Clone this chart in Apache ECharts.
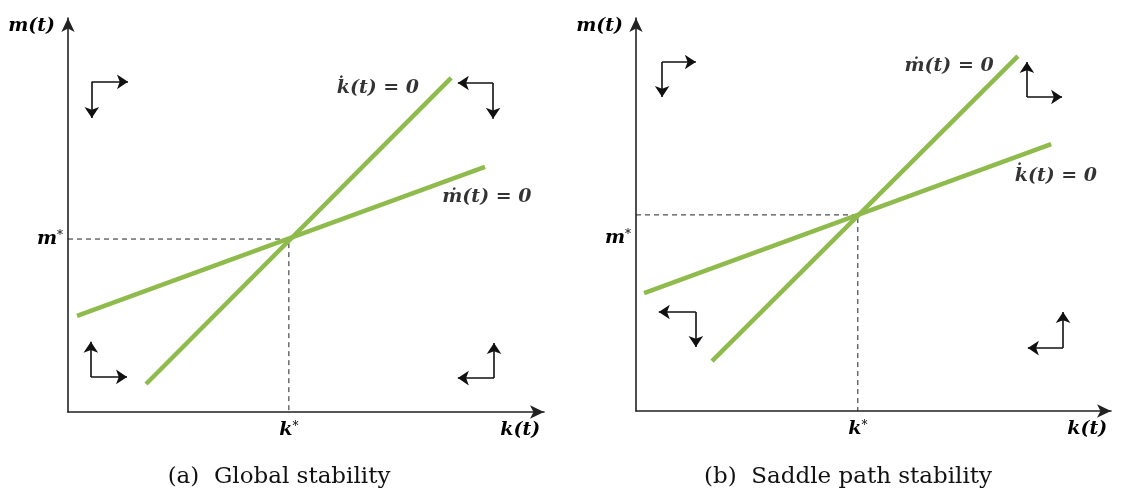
<!DOCTYPE html>
<html>
<head>
<meta charset="utf-8">
<script src="https://cdn.jsdelivr.net/npm/echarts@6/dist/echarts.min.js"></script>
<style>
  html, body { margin: 0; padding: 0; background: #fff; }
  #main { width: 1121px; height: 491px; }
</style>
</head>
<body>
<div id="main"></div>
<script>
// 两个相图: (a) 全局稳定, (b) 鞍点路径稳定
// 每个面板的坐标都是 0~10 的抽象刻度
const kStar = [4.64, 4.67]
const mStar = [4.39, 4.99]
// 陡的那条线 (a: k̇=0, b: ṁ=0)
const steepLine = [
  [[1.64, 0.71], [8.05, 8.48]],
  [[1.60, 1.27], [8.04, 9.03]]
]
// 平的那条线 (a: ṁ=0, b: k̇=0)
const flatLine = [
  [[0.19, 2.44], [8.76, 6.22]],
  [[0.17, 3.00], [8.74, 6.79]]
]
// 方向箭头: [拐点, 箭头1终点, 箭头2终点]
const arrowsA = [
  [[0.50, 8.38], [1.26, 8.38], [0.50, 7.46]],
  [[8.93, 8.35], [8.19, 8.35], [8.93, 7.44]],
  [[0.48, 0.89], [0.48, 1.78], [1.24, 0.89]],
  [[8.95, 0.86], [8.95, 1.75], [8.19, 0.86]]
]
const arrowsB = [
  [[0.55, 8.88], [1.26, 8.88], [0.55, 7.99]],
  [[8.23, 7.99], [8.23, 8.88], [8.97, 7.99]],
  [[1.26, 2.52], [0.48, 2.52], [1.26, 1.63]],
  [[8.99, 1.60], [8.99, 2.52], [8.25, 1.60]]
]
// 曲线标注 [文字, x, y]
const curveLabelsA = [['k\u0307(t) = 0', 6.51, 8.22], ['\u1E41(t) = 0', 8.80, 5.46]]
const curveLabelsB = [['\u1E41(t) = 0', 6.59, 8.78], ['k\u0307(t) = 0', 8.84, 5.98]]
const captions = ['(a)  Global stability', '(b)  Saddle path stability']
const xName = 'k(t)'
const yName = 'm(t)'
const xNamePos = 9.5
const yNamePos = 9.8

const green = '#8fbb4d'
const ink = '#111'
const mathFont = {
  fontFamily: 'DejaVu Serif',
  fontStyle: 'italic',
  fontWeight: 'bold',
  fontSize: 19,
  color: '#000'
}

const myChart = echarts.init(document.getElementById('main'))

const grids = [
  { left: 68, top: 18, width: 476, height: 394 },
  { left: 636, top: 18, width: 475, height: 393 }
]

function xAxisFor(i) {
  return {
    type: 'value', gridIndex: i, min: 0, max: 10,
    splitLine: { show: false },
    axisTick: { show: false },
    axisLine: { lineStyle: { color: '#222', width: 1.6 }, symbol: ['none', 'arrow'], symbolSize: [10, 14] },
    axisLabel: {
      customValues: [kStar[i], xNamePos],
      margin: 9,
      formatter: v => v === xNamePos ? '{b|' + xName + '}' : '{b|k}{s|*}',
      rich: {
        b: mathFont,
        s: { ...mathFont, fontSize: 12, verticalAlign: 'top', fontWeight: 'normal' }
      }
    }
  }
}

function yAxisFor(i) {
  // (b) 图里 m* 写在虚线下方
  const pad = i === 1 ? [46, 0, 0, 0] : 0
  return {
    type: 'value', gridIndex: i, min: 0, max: 10,
    splitLine: { show: false },
    axisTick: { show: false },
    axisLine: { lineStyle: { color: '#222', width: 1.6 }, symbol: ['none', 'arrow'], symbolSize: [10, 14] },
    axisLabel: {
      customValues: [mStar[i], yNamePos],
      margin: 5,
      formatter: v => v === yNamePos ? '{n|' + yName + '}' : '{b|m}{s|*}',
      rich: {
        b: { ...mathFont, padding: pad },
        n: { ...mathFont, padding: [0, 8, 0, 0] },
        s: { ...mathFont, fontSize: 12, verticalAlign: 'top', fontWeight: 'normal', padding: pad }
      }
    }
  }
}

const series = []
;[arrowsA, arrowsB].forEach((arrows, i) => {
  // 虚线: m* 水平线 + k* 垂直线
  series.push({
    type: 'line', xAxisIndex: i, yAxisIndex: i, silent: true,
    showSymbol: false, symbol: 'none',
    lineStyle: { color: '#222', width: 1, type: [5, 4] },
    data: [[0, mStar[i]], [kStar[i], mStar[i]], [kStar[i], 0]]
  })
  ;[steepLine[i], flatLine[i]].forEach(seg => {
    series.push({
      type: 'line', xAxisIndex: i, yAxisIndex: i, silent: true,
      showSymbol: false, symbol: 'none',
      lineStyle: { color: green, width: 4.5, cap: 'butt' },
      data: seg
    })
  })
  // 箭头
  const segs = []
  arrows.forEach(a => {
    segs.push({ coords: [a[0], a[1]] })
    segs.push({ coords: [a[0], a[2]] })
  })
  series.push({
    type: 'lines', coordinateSystem: 'cartesian2d', xAxisIndex: i, yAxisIndex: i,
    silent: true,
    symbol: ['none', 'arrow'], symbolSize: 11,
    lineStyle: { color: ink, width: 1.6, opacity: 1, curveness: 0 },
    data: segs
  })
  // 曲线文字
  const labels = i === 0 ? curveLabelsA : curveLabelsB
  series.push({
    type: 'scatter', xAxisIndex: i, yAxisIndex: i, silent: true,
    symbolSize: 0,
    label: { show: true, position: 'inside', formatter: '{b}', ...mathFont },
    data: labels.map(l => ({ name: l[0], value: [l[1], l[2]] }))
  })
})

const option = {
  animation: false,
  backgroundColor: '#fff',
  title: captions.map((t, i) => ({
    text: t,
    left: i === 0 ? 274 : 843,
    top: 461,
    textAlign: 'center',
    textStyle: { fontFamily: 'DejaVu Serif', fontWeight: 'normal', fontSize: 23, color: '#111' }
  })),
  grid: grids,
  xAxis: [xAxisFor(0), xAxisFor(1)],
  yAxis: [yAxisFor(0), yAxisFor(1)],
  series: series
}

option && myChart.setOption(option)
window.addEventListener('resize', () => {
  myChart.resize()
})
</script>
</body>
</html>
